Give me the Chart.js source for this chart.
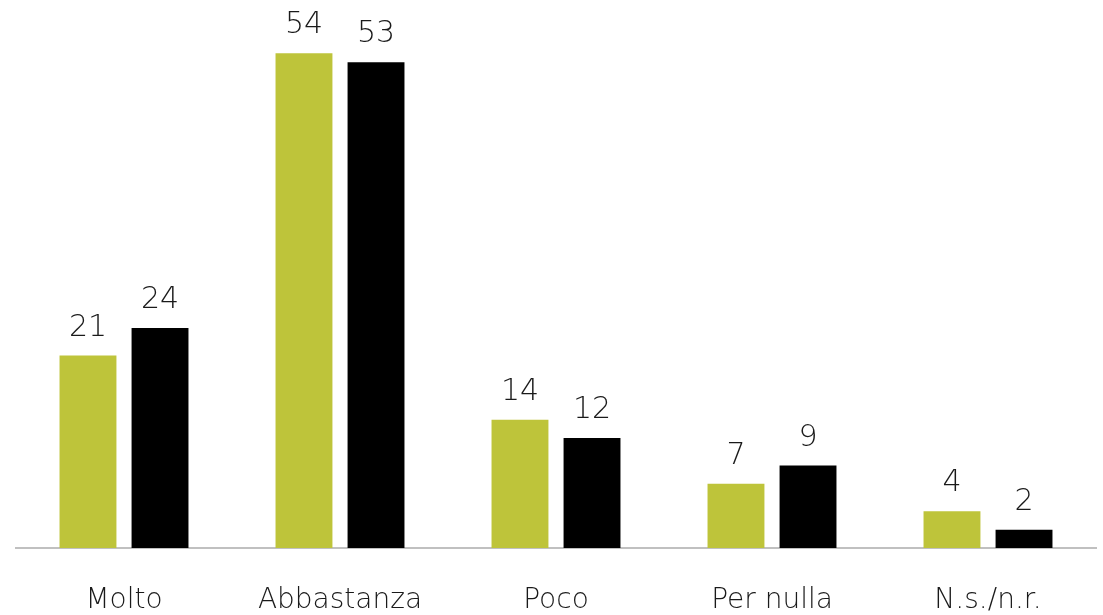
<!DOCTYPE html>
<html>
<head>
<meta charset="utf-8">
<script src="https://cdn.jsdelivr.net/npm/chart.js@4"></script>
<style>
  html, body { margin: 0; padding: 0; background: #ffffff; }
  #wrap { position: relative; width: 1103px; height: 615px; }
</style>
</head>
<body>
<div id="wrap"><canvas id="barChart"></canvas></div>
<script>
var categories = ["Molto", "Abbastanza", "Poco", "Per nulla", "N.s./n.r."];
var seriesGreen = [21, 54, 14, 7, 4];
var seriesBlack = [24, 53, 12, 9, 2];

var fontFamily = "'DejaVu Sans', sans-serif";

// valori sopra le barre
var valueLabels = {
  id: "valueLabels",
  afterDatasetsDraw: function (chart) {
    var ctx = chart.ctx;
    ctx.save();
    ctx.font = "200 30px " + fontFamily;
    ctx.fillStyle = "#1a1a1a";
    ctx.textAlign = "center";
    ctx.textBaseline = "alphabetic";
    chart.data.datasets.forEach(function (ds, i) {
      chart.getDatasetMeta(i).data.forEach(function (bar, j) {
        ctx.fillText(ds.data[j], bar.x, bar.y - 20);
      });
    });
    ctx.restore();
  }
};

var barChart = document.getElementById("barChart").getContext("2d");

var myBarChart = new Chart(barChart, {
  type: "bar",
  data: {
    labels: categories,
    datasets: [
      {
        data: seriesGreen,
        backgroundColor: "#bec43a",
        categoryPercentage: 0.667,
        barPercentage: 0.79,
      },
      {
        data: seriesBlack,
        backgroundColor: "#000000",
        categoryPercentage: 0.667,
        barPercentage: 0.79,
      },
    ],
  },
  options: {
    responsive: true,
    maintainAspectRatio: false,
    animation: false,
    layout: {
      padding: { left: 16, right: 7, top: 0, bottom: 0 },
    },
    scales: {
      x: {
        afterFit: function (scale) {
          scale.height = 67; // asse a y = 548
        },
        border: { display: true, color: "#c0c0c0", width: 2 },
        grid: { display: false, drawTicks: false },
        ticks: {
          color: "#1a1a1a",
          padding: 36,
          font: { family: fontFamily, size: 28, weight: 200 },
          maxRotation: 0,
          minRotation: 0,
        },
      },
      y: {
        display: false,
        min: 0,
        max: 59.8,
      },
    },
    plugins: {
      legend: { display: false },
      tooltip: { enabled: false },
    },
  },
  plugins: [valueLabels],
});
</script>
</body>
</html>
